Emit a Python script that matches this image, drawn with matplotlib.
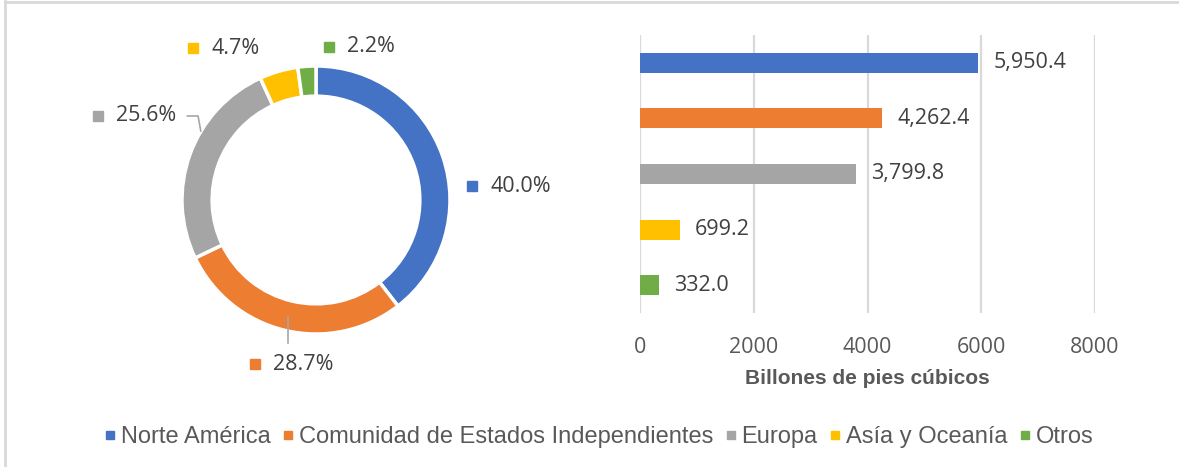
import matplotlib.pyplot as plt
from matplotlib.lines import Line2D

regions = ["Norte América", "Comunidad de Estados Independientes", "Europa",
           "Asía y Oceanía", "Otros"]
reserves = [5950.4, 4262.4, 3799.8, 699.2, 332.0]
shares = [40.0, 28.7, 25.6, 4.7, 2.2]
colors = ["#4472C4", "#ED7D31", "#A5A5A5", "#FFC000", "#70AD47"]
xticks = [0, 2000, 4000, 6000, 8000]

txt = "#404040"
font = ["Open Sans", "DejaVu Sans"]

fig = plt.figure(figsize=(11.79, 4.67), dpi=100)

# frame lines (left/top edge of the chart box)
fig.add_artist(Line2D([5 / 1179, 5 / 1179], [0, 1 - 1 / 467], color="#D9D9D9", lw=2))
fig.add_artist(Line2D([5 / 1179, 1], [1 - 2 / 467, 1 - 2 / 467], color="#D9D9D9", lw=2))

# donut
ax1 = fig.add_axes([115 / 1179, 1 - 401 / 467, 402 / 1179, 402 / 467])
ax1.pie(shares, colors=colors, startangle=90, counterclock=False, radius=1,
        wedgeprops=dict(width=0.225, edgecolor="white", linewidth=2.5))
ax1.set_xlim(-1.5, 1.5)
ax1.set_ylim(-1.5, 1.5)
ax1.set_aspect("equal")
ax1.axis("off")

label_pos = [(1.164, 0.104), (-0.455, -1.224), (-1.627, 0.627),
             (-0.918, 1.134), (0.097, 1.142)]
for (x, y), s, c in zip(label_pos, shares, colors):
    ax1.plot(x, y, marker="s", ms=7, color=c, clip_on=False)
    ax1.text(x + 0.135, y, f"{s:.1f}%", color=txt, fontsize=15.5, family=font,
             va="center", ha="left", clip_on=False)

# leader lines
ax1.plot([-0.96, -0.88, -0.86], [0.627, 0.627, 0.515], color="#A6A6A6", lw=1.2)
ax1.plot([-0.21, -0.21], [-0.87, -1.07], color="#A6A6A6", lw=1.2)

# bars
ax2 = fig.add_axes([640 / 1179, 1 - 313 / 467, 455 / 1179, 278 / 467])
ypos = list(range(len(reserves)))
ax2.barh(ypos, reserves, height=0.36, color=colors, zorder=3)
for y, v in zip(ypos, reserves):
    ax2.annotate(f"{v:,.1f}", (v, y), xytext=(11, 0), textcoords="offset points",
                 va="center", ha="left", fontsize=15.5, color=txt, family=font)
ax2.set_ylim(4.5, -0.5)
ax2.set_xlim(0, 8000)
ax2.set_xticks(xticks)
ax2.set_xticklabels([str(t) for t in xticks])
ax2.set_yticks([])
ax2.grid(axis="x", color="#D9D9D9", lw=1.6, zorder=0)
for sp in ax2.spines.values():
    sp.set_visible(False)
ax2.tick_params(axis="x", length=0, pad=17.5, labelsize=15.5, labelcolor="#595959")
for lb in ax2.get_xticklabels():
    lb.set_family(font)
ax2.set_xlabel("Billones de pies cúbicos", fontsize=15, fontweight="bold",
               color="#595959", labelpad=8, family=["Liberation Sans", "DejaVu Sans"])

# legend
handles = [Line2D([], [], marker="s", ls="", ms=6, color=c) for c in colors]
leg = fig.legend(handles, regions, loc="center", bbox_to_anchor=(0.508, 1 - 437 / 467),
                 ncol=5, frameon=False, handlelength=0.5, handletextpad=0.2,
                 columnspacing=0.5,
                 prop=dict(family=["Liberation Sans", "DejaVu Sans"], size=17))
for t in leg.get_texts():
    t.set_color("#595959")

fig.savefig("out.png", dpi=100)
